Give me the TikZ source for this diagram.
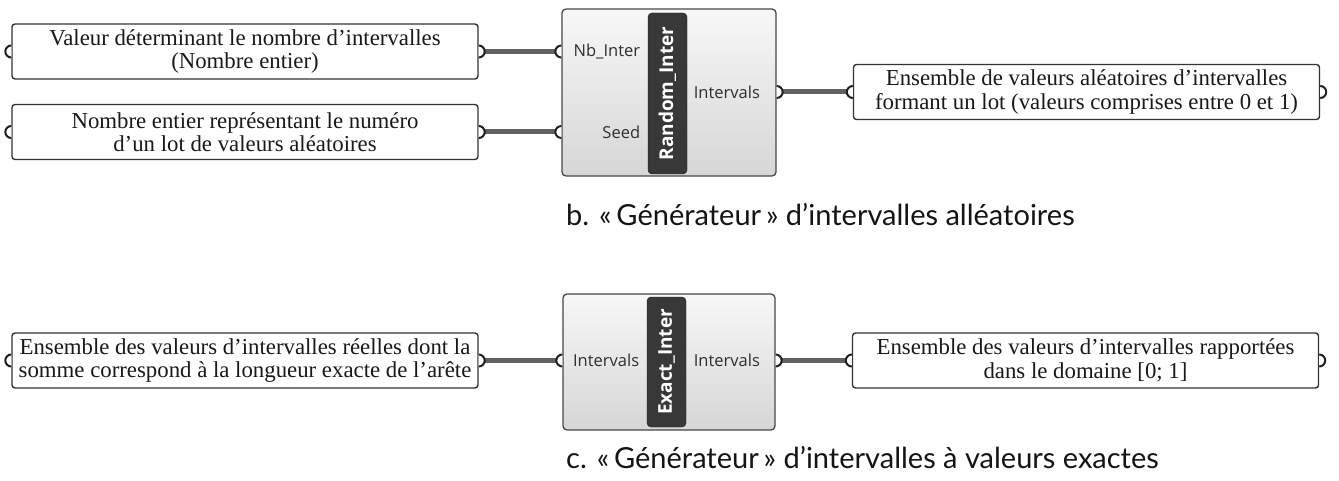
\documentclass[tikz,border=0pt]{standalone}
\usepackage{fontspec}
\setmainfont{Liberation Serif}
\newfontfamily\capfont{Lato}
\newfontfamily\ghfont{Open Sans}
\usetikzlibrary{positioning, calc}

\begin{document}
\begin{tikzpicture}[
    x=1pt, y=-1pt,
    note/.style={draw=black!80, line width=1.4pt, fill=white, rounded corners=3pt,
                 align=center, text=black!90, inner sep=0pt,
                 font=\fontsize{22.8}{23.5}\selectfont,
                 minimum width=466pt, minimum height=55pt},
    body/.style={draw=black!72, line width=1.3pt, rounded corners=4pt,
                 top color=black!3, bottom color=black!16, inner sep=0pt,
                 minimum width=214pt},
    bar/.style={draw=black!90, fill=black!78, rounded corners=4pt, rotate=90,
                text=white, inner sep=0pt, minimum height=39pt,
                font=\ghfont\bfseries\fontsize{19}{19}\selectfont},
    lbl/.style={text=black!82, inner sep=0pt, font=\ghfont\fontsize{16.5}{17}\selectfont},
    wire/.style={line width=5pt, black!62},
    port/.style={draw=black!88, fill=white, line width=2pt},
    caption/.style={inner sep=0pt, text=black!92, font=\capfont\fontsize{29}{29}\selectfont},
]
\useasboundingbox (0,0) rectangle (1339,481);

% ── b. random intervals ─────────────────────────────────────────────────────
\node[note] (valNb) at (245,51.5)
    {Valeur déterminant le nombre d’intervalles\\(Nombre entier)};
\node[note] (lotNum) at (245,132)
    {Nombre entier représentant le numéro\\d’un lot de valeurs aléatoires};

\node[body, minimum height=167pt] (randBody) at (669,92.5) {};
\node[bar, minimum width=161pt] (randBar) at (667.5,93.5) {Random\_Inter};

\node[note] (lotOut) at (1086.5,92)
    {Ensemble de valeurs aléatoires d’intervalles\\formant un lot (valeurs comprises entre 0 et 1)};

\coordinate (nbIn)   at (randBody.west |- valNb.east);
\coordinate (seedIn) at (randBody.west |- lotNum.east);
\coordinate (ivOut)  at (randBody.east |- lotOut.west);

\node[lbl, anchor=east] (nbL)   at ([xshift=79]nbIn)    {Nb\_Inter};
\node[lbl, anchor=east] (seedL) at ([xshift=79]seedIn)  {Seed};
\node[lbl, anchor=west] (ivL)   at ([xshift=-83]ivOut)  {Intervals};

\node[caption, anchor=base west] (capB) at (566,226)
    {b. «\,Générateur\,» d’intervalles alléatoires};

% ── c. exact intervals ──────────────────────────────────────────────────────
\node[note] (reelles) at (245,360.5)
    {Ensemble des valeurs d’intervalles réelles dont la\\somme correspond à la longueur exacte de l’arête};

\node[body, minimum width=212pt, minimum height=136pt] (exBody) at (669,362) {};
\node[bar, minimum width=130pt] (exBar) at (666.5,362) {Exact\_Inter};

\node[note] (domaine) at (1085.5,360.5)
    {Ensemble des valeurs d’intervalles rapportées\\dans le domaine [0; 1]};

\coordinate (exIn)  at (exBody.west |- reelles.east);
\coordinate (exOut) at (exBody.east |- domaine.west);

\node[lbl, anchor=east] (exInL)  at ([xshift=77]exIn)   {Intervals};
\node[lbl, anchor=west] (exOutL) at ([xshift=-82]exOut) {Intervals};

\node[caption, anchor=base west] (capC) at (566,468)
    {c. «\,Générateur\,» d’intervalles à valeurs exactes};

% ── wires ───────────────────────────────────────────────────────────────────
\draw[wire] ([xshift=6]valNb.east)   -- ([xshift=-6]nbIn);
\draw[wire] ([xshift=6]lotNum.east)  -- ([xshift=-6]seedIn);
\draw[wire] ([xshift=6]ivOut)        -- ([xshift=-6]lotOut.west);
\draw[wire] ([xshift=6]reelles.east) -- ([xshift=-6]exIn);
\draw[wire] ([xshift=6]exOut)        -- ([xshift=-6]domaine.west);

% ── ports ───────────────────────────────────────────────────────────────────
\foreach \p in {valNb.east, lotNum.east, ivOut, lotOut.east,
                reelles.east, exOut, domaine.east}
    \filldraw[port] ([yshift=6]\p) arc(-90:90:6);
\foreach \p in {valNb.west, lotNum.west, nbIn, seedIn, lotOut.west,
                reelles.west, exIn, domaine.west}
    \filldraw[port] ([yshift=6]\p) arc(-90:-270:6);

\end{tikzpicture}
\end{document}
